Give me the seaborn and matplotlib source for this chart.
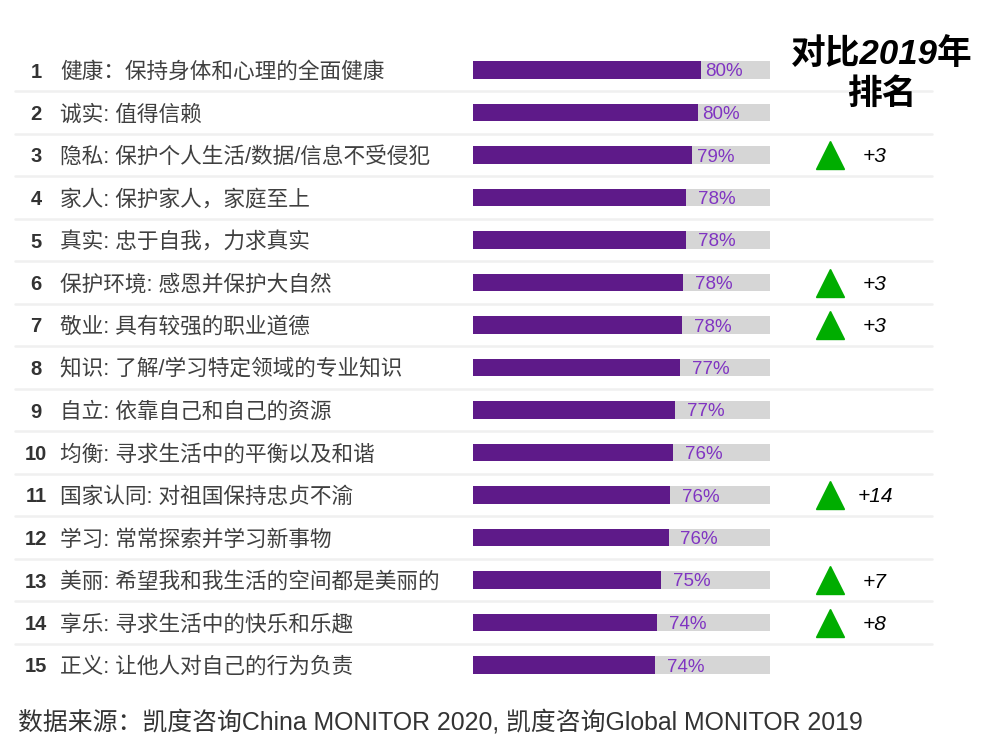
import matplotlib
matplotlib.use("Agg")
import matplotlib.pyplot as plt
import seaborn as sns
import pandas as pd
from matplotlib.transforms import blended_transform_factory

# ---------------- data ----------------
ranks = list(range(1, 16))
labels = [
    "健康：保持身体和心理的全面健康",
    "诚实: 值得信赖",
    "隐私: 保护个人生活/数据/信息不受侵犯",
    "家人: 保护家人，家庭至上",
    "真实: 忠于自我，力求真实",
    "保护环境: 感恩并保护大自然",
    "敬业: 具有较强的职业道德",
    "知识: 了解/学习特定领域的专业知识",
    "自立: 依靠自己和自己的资源",
    "均衡: 寻求生活中的平衡以及和谐",
    "国家认同: 对祖国保持忠贞不渝",
    "学习: 常常探索并学习新事物",
    "美丽: 希望我和我生活的空间都是美丽的",
    "享乐: 寻求生活中的快乐和乐趣",
    "正义: 让他人对自己的行为负责",
]
values = [80.2, 79.8, 79.0, 78.2, 78.2, 77.8, 77.6, 77.4, 76.7, 76.4, 76.0, 75.8, 74.8, 74.2, 74.0]
pct_labels = ["80%", "80%", "79%", "78%", "78%", "78%", "78%", "77%", "77%",
              "76%", "76%", "76%", "75%", "74%", "74%"]
changes = ["", "", "+3", "", "", "+3", "+3", "", "", "", "+14", "", "+7", "+8", ""]
header_lines = ["对比2019年", "排名"]
source = "数据来源：凯度咨询China MONITOR 2020, 凯度咨询Global MONITOR 2019"

# scale of the bar track
AXIS_MIN = 49.4
TRACK_MAX = 89.5

# ---------------- style ----------------
sns.set_style("white")
FAM = ["Liberation Sans", "Noto Sans CJK SC", "DejaVu Sans"]
plt.rcParams["font.family"] = FAM

W, H = 989, 754
fig = plt.figure(figsize=(W / 100, H / 100), dpi=100)
fig.patch.set_facecolor("white")

row_top, row_bot = 48.75, 686.25
ax = fig.add_axes([473 / W, 1 - row_bot / H, 297 / W, (row_bot - row_top) / H])

df = pd.DataFrame({"label": labels, "value": values, "track": [TRACK_MAX] * len(labels)})
sns.barplot(data=df, y="label", x="track", orient="h", color="#D6D6D6",
            saturation=1, width=0.42, linewidth=0, ax=ax)
sns.barplot(data=df, y="label", x="value", orient="h", color="#5E1A89",
            saturation=1, width=0.42, linewidth=0, ax=ax)
ax.set_xlim(AXIS_MIN, TRACK_MAX)
ax.set_ylim(len(labels) - 0.5, -0.5)
ax.axis("off")

trans = blended_transform_factory(fig.transFigure, ax.transData)

# separators
for i in range(len(labels) - 1):
    ax.plot([15 / W, 932 / W], [i + 0.5, i + 0.5], transform=trans, color="#F0F0F0",
            lw=1.8, clip_on=False, zorder=0)

for i, (r, lab, v, pl, ch) in enumerate(zip(ranks, labels, values, pct_labels, changes)):
    ax.text(36 / W, i, str(r), transform=trans, ha="center", va="center_baseline",
            fontsize=14.5, fontweight="bold", color="#333333")
    ax.text(60 / W, i, lab, transform=trans, ha="left", va="center_baseline",
            fontsize=15.6, color="#404040")
    pad = 3.2 if r <= 3 else 8.6
    ax.annotate(pl, xy=(v, i), xytext=(pad, 0), textcoords="offset points",
                ha="left", va="center_baseline", fontsize=13.5, color="#8034C2",
                annotation_clip=False)
    if ch:
        ax.plot([830 / W], [i], transform=trans, marker="^", markersize=19.5,
                color="#00AD00", linestyle="none", clip_on=False)
        ax.text(875 / W, i, ch, transform=trans, ha="center", va="center_baseline",
                fontsize=15, style="italic", color="black")

for k, (line, ypx) in enumerate(zip(header_lines, [51, 91])):
    fig.text(882 / W, 1 - ypx / H, line, ha="center", va="center_baseline", fontsize=25,
             fontweight="bold", style="italic", color="black")

fig.text(18 / W, 1 - 720 / H, source, ha="left", va="center_baseline", fontsize=17.9,
         color="#333333")

fig.savefig("out.png", dpi=100, facecolor="white")
